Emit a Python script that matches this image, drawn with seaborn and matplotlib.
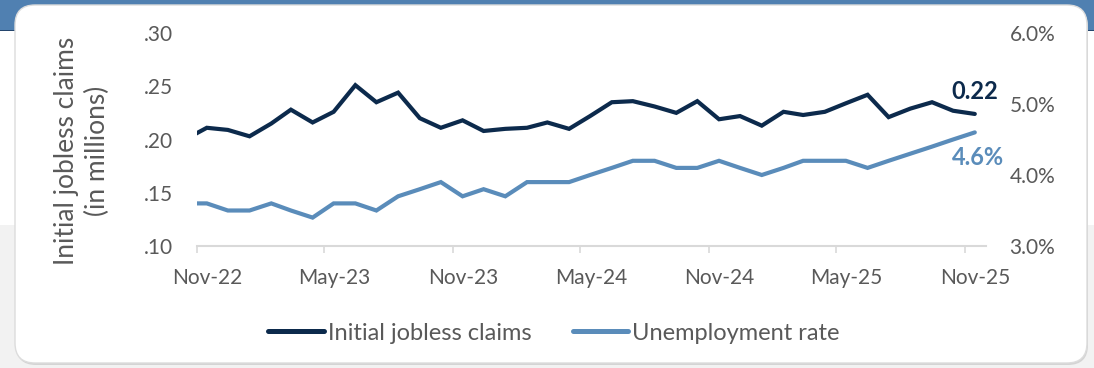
import pandas as pd
import matplotlib
matplotlib.use("Agg")
import matplotlib.pyplot as plt
from matplotlib.patches import FancyBboxPatch, Rectangle
from matplotlib.transforms import IdentityTransform
from matplotlib.lines import Line2D
from matplotlib.ticker import FixedLocator, FuncFormatter, NullFormatter
import seaborn as sns

# Monthly observations, mid-month, Oct-2022 .. Nov-2025
first_month = "2022-10"
n_months = 38

# Initial jobless claims (millions)
claims = [
    0.200, 0.211, 0.209,
    0.203, 0.215, 0.228, 0.216, 0.226, 0.251, 0.235, 0.244, 0.220, 0.211, 0.218, 0.208,
    0.210, 0.211, 0.216, 0.210, 0.222, 0.235, 0.236, 0.231, 0.225, 0.236, 0.219, 0.222,
    0.213, 0.226, 0.223, 0.226, 0.234, 0.242, 0.221, 0.229, 0.235, 0.227, 0.224,
]

# Unemployment rate (%)
unemployment = [
    3.6, 3.6, 3.5,
    3.5, 3.6, 3.5, 3.4, 3.6, 3.6, 3.5, 3.7, 3.8, 3.9, 3.7, 3.8,
    3.7, 3.9, 3.9, 3.9, 4.0, 4.1, 4.2, 4.2, 4.1, 4.1, 4.2, 4.1,
    4.0, 4.1, 4.2, 4.2, 4.2, 4.1, 4.2, 4.3, 4.4, 4.5, 4.6,
]

tick_labels = ["Nov-22", "May-23", "Nov-23", "May-24", "Nov-24", "May-25", "Nov-25"]
tick_dates = ["2022-11-01", "2023-05-01", "2023-11-01", "2024-05-01",
              "2024-11-01", "2025-05-01", "2025-11-01"]
x_range = ["2022-11-01", "2025-12-01"]

claims_ticks = [0.10, 0.15, 0.20, 0.25, 0.30]
rate_ticks = [3.0, 4.0, 5.0, 6.0]

NAVY = "#0c2a4c"
STEEL = "#5a8cba"
GREY_TEXT = "#595959"
AXIS_GREY = "#d9d9d9"

months = pd.date_range(first_month + "-01", periods=n_months, freq="MS") + pd.Timedelta(days=14)
df = pd.DataFrame({"month": months, "claims": claims, "rate": unemployment})

sns.set_theme(style="white")
plt.rcParams["font.family"] = ["Lato", "DejaVu Sans"]

W, H = 1094, 368
fig = plt.figure(figsize=(W / 100, H / 100), dpi=100)
fig.patch.set_facecolor("white")

# page background: blue header band, grey lower band, white card
px = IdentityTransform()
fig.add_artist(Rectangle((0, 0), W, H - 225, transform=px, facecolor="#f2f2f2",
                         edgecolor="none", zorder=-20))
fig.add_artist(Rectangle((0, H - 30), W, 30, transform=px, facecolor="#5080b1",
                         edgecolor="none", zorder=-20))
fig.add_artist(Rectangle((0, H - 31), W, 1.2, transform=px, facecolor="#24456d",
                         edgecolor="none", zorder=-19))
fig.add_artist(FancyBboxPatch((16, 3), 1072, 358, boxstyle="round,pad=0,rounding_size=20",
                              transform=px, facecolor="#d4d4d4", edgecolor="none", zorder=-12))
fig.add_artist(FancyBboxPatch((15, 5), 1072, 358, boxstyle="round,pad=0,rounding_size=20",
                              transform=px, facecolor="white", edgecolor="#dcdcdc",
                              linewidth=1.0, zorder=-10))

ax = fig.add_axes([197 / W, 1 - 246 / H, (986 - 197) / W, 213 / H])
ax.set_facecolor("none")
ax2 = ax.twinx()

sns.lineplot(data=df, x="month", y="claims", ax=ax, color=NAVY, linewidth=3.0,
             solid_joinstyle="miter", legend=False)
sns.lineplot(data=df, x="month", y="rate", ax=ax2, color=STEEL, linewidth=3.0,
             solid_joinstyle="miter", legend=False)

ax.set_xlim(pd.Timestamp(x_range[0]), pd.Timestamp(x_range[1]))
ax.set_ylim(claims_ticks[0], claims_ticks[-1])
ax2.set_ylim(rate_ticks[0], rate_ticks[-1])

# tick marks at month starts, labels centred on each labelled month
tick_pos = pd.to_datetime(tick_dates)
label_pos = tick_pos + pd.Timedelta(days=15)
ax.xaxis.set_major_locator(FixedLocator(matplotlib.dates.date2num(tick_pos)))
ax.xaxis.set_major_formatter(NullFormatter())
ax.xaxis.set_minor_locator(FixedLocator(matplotlib.dates.date2num(label_pos)))
ax.set_xticklabels(tick_labels, minor=True)

ax.yaxis.set_major_locator(FixedLocator(claims_ticks))
ax.yaxis.set_major_formatter(FuncFormatter(lambda v, _: f"{v:.2f}".lstrip("0")))
ax2.yaxis.set_major_locator(FixedLocator(rate_ticks))
ax2.yaxis.set_major_formatter(FuncFormatter(lambda v, _: f"{v:.1f}%"))

for a in (ax, ax2):
    for s in a.spines.values():
        s.set_visible(False)
    a.set_xlabel("")
    a.set_ylabel("")
    a.grid(False)
ax.spines["bottom"].set_visible(True)
ax.spines["bottom"].set_color(AXIS_GREY)
ax.spines["bottom"].set_linewidth(1.5)

ax.tick_params(axis="x", which="major", direction="out", length=5, width=1.2,
               color=AXIS_GREY, bottom=True)
ax.tick_params(axis="x", which="minor", length=0, labelcolor=GREY_TEXT, labelsize=15,
               pad=16, bottom=True)
ax.tick_params(axis="y", length=0, labelcolor=GREY_TEXT, labelsize=15, pad=17)
ax2.tick_params(axis="y", length=0, labelcolor=GREY_TEXT, labelsize=15, pad=17)

# end-of-series value labels
ax.annotate(f"{claims[-1]:.2f}", xy=(months[-1], claims[-1]), xytext=(0, 16),
            textcoords="offset points", ha="center", va="center",
            fontsize=17, fontweight="bold", color=NAVY)
ax2.annotate(f"{unemployment[-1]:.1f}%", xy=(months[-1], unemployment[-1]), xytext=(2, -18),
             textcoords="offset points", ha="center", va="center",
             fontsize=17, fontweight="bold", color=STEEL)

fig.text(82 / W, 1 - 151 / H, "Initial jobless claims\n(in millions)", rotation=90,
         ha="center", va="center", multialignment="center", linespacing=1.3,
         fontsize=19, color=GREY_TEXT)

handles = [
    Line2D([], [], color=NAVY, linewidth=3.6, solid_capstyle="round"),
    Line2D([], [], color=STEEL, linewidth=3.6, solid_capstyle="round"),
]
fig.legend(handles, ["Initial jobless claims", "Unemployment rate"], loc="center",
           bbox_to_anchor=(554 / W, 1 - 333 / H), ncol=2, frameon=False,
           fontsize=17, labelcolor=GREY_TEXT, handlelength=2.35, handletextpad=0.17,
           columnspacing=1.75)

fig.savefig("out.png", dpi=100, facecolor=fig.get_facecolor())
